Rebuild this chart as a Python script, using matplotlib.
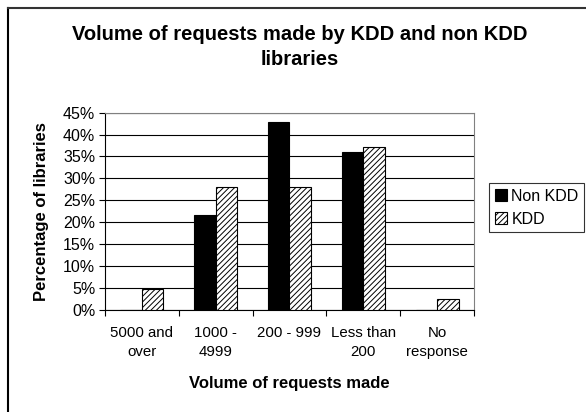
import numpy as np
import matplotlib
matplotlib.use("Agg")
import matplotlib.pyplot as plt
from matplotlib.lines import Line2D
from matplotlib.ticker import PercentFormatter

plt.rcParams['font.family'] = ['Liberation Sans', 'DejaVu Sans']
plt.rcParams['hatch.linewidth'] = 0.7

# data
categories = ["5000 and\nover", "1000 -\n4999", "200 - 999", "Less than\n200", "No\nresponse"]
non_kdd = [0, 21.7, 42.9, 36.0, 0]
kdd = [4.8, 28.0, 28.0, 37.2, 2.4]

fig = plt.figure(figsize=(5.86, 4.12), dpi=100)
ax = fig.add_axes([0.179, 0.248, 0.630, 0.4785])

x = np.arange(len(categories))
w = 0.29
ax.bar(x - w/2, non_kdd, w, color='black', edgecolor='black', linewidth=0.8,
       label='Non KDD', zorder=3)
ax.bar(x + w/2, kdd, w, color='white', edgecolor='black', hatch='//////',
       linewidth=0.8, label='KDD', zorder=3)

ax.set_xlim(-0.5, len(categories) - 0.5)
ax.set_ylim(0, 45)
ax.set_yticks(np.arange(0, 46, 5))
ax.yaxis.set_major_formatter(PercentFormatter(decimals=0))
ax.grid(axis='y', color='black', linewidth=0.8, zorder=0)

ax.set_xticks(x)
ax.set_xticklabels(categories, fontsize=10.8, linespacing=1.45)
ax.set_xticks(np.arange(-0.5, len(categories), 1), minor=True)
ax.tick_params(axis='x', which='major', length=0, pad=12)
ax.tick_params(axis='x', which='minor', length=4, direction='out', width=0.8)
ax.tick_params(axis='y', length=4, direction='out', width=0.8, labelsize=11.5, pad=3)

for s in ['top', 'right']:
    ax.spines[s].set_color('gray')
for s in ['left', 'bottom']:
    ax.spines[s].set_color('black')
ax.spines[:].set_linewidth(0.8)

ax.set_ylabel("Percentage of libraries", fontsize=12, fontweight='bold', labelpad=10)
ax.set_xlabel("Volume of requests made", fontsize=12, fontweight='bold', labelpad=12)

fig.text(0.512, 0.885, "Volume of requests made by KDD and non KDD\nlibraries",
         ha='center', va='center', fontsize=14.5, fontweight='bold', linespacing=1.4)

leg = fig.legend(loc='upper left', bbox_to_anchor=(489/586, 1 - 183/412),
                 fontsize=11.5, frameon=True, fancybox=False, edgecolor='black',
                 handlelength=0.75, handleheight=0.75, handletextpad=0.3,
                 borderpad=0.35, labelspacing=0.5, borderaxespad=0)
leg.get_frame().set_linewidth(0.8)

fig.add_artist(Line2D([8/586, 8/586], [0, 1 - 8/412], color='black', linewidth=1.5))
fig.add_artist(Line2D([8/586, 1], [1 - 8/412, 1 - 8/412], color='#333333', linewidth=1.5))

fig.savefig("out.png", dpi=100)
